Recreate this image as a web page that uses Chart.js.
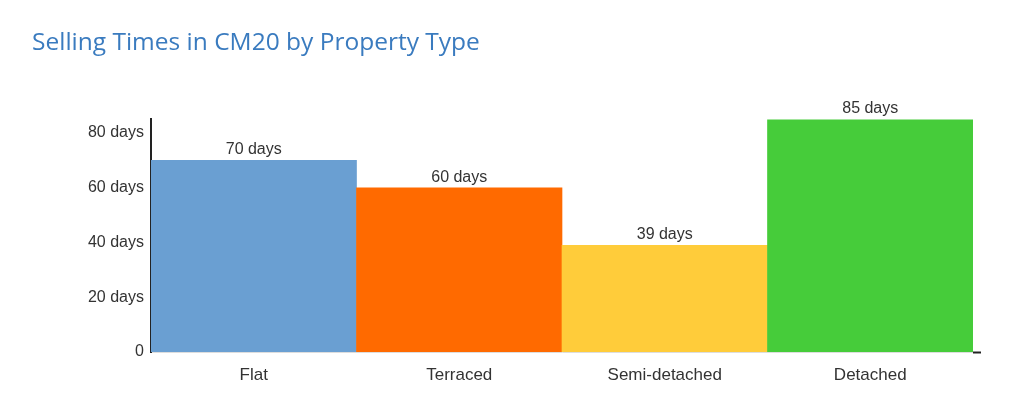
<!DOCTYPE html>
<html>
<head>
<meta charset="utf-8">
<script src="https://cdn.jsdelivr.net/npm/chart.js@4.4.1/dist/chart.umd.min.js"></script>
<style>
html,body{margin:0;padding:0;background:#fff;}
#wrap{width:1024px;height:414px;position:relative;}
</style>
</head>
<body>
<div id="wrap"><canvas id="c" width="1024" height="414"></canvas></div>
<script>
const categories = ["Flat", "Terraced", "Semi-detached", "Detached"];
const sellingDays = [70, 60, 39, 85];
const barColors = ["#6a9fd2", "#ff6a00", "#ffcc3a", "#46cc3a"];
const yTicks = [0, 20, 40, 60, 80];
const titleText = "Selling Times in CM20 by Property Type";

const barLabels = {
  id: 'barLabels',
  afterDatasetsDraw(chart) {
    const ctx = chart.ctx;
    const meta = chart.getDatasetMeta(0);
    ctx.save();
    ctx.font = '16px "Liberation Sans", Arial, sans-serif';
    ctx.fillStyle = '#333333';
    ctx.textAlign = 'center';
    ctx.textBaseline = 'alphabetic';
    meta.data.forEach((bar, i) => {
      ctx.fillText(sellingDays[i] + ' days', bar.x, bar.y - 6);
    });
    // small dark end of the x axis beyond the last bar
    const a = chart.chartArea;
    ctx.strokeStyle = '#222222';
    ctx.lineWidth = 2;
    ctx.beginPath();
    ctx.moveTo(a.right, a.bottom + 0.5);
    ctx.lineTo(a.right + 8, a.bottom + 0.5);
    ctx.stroke();
    ctx.restore();
  }
};

new Chart(document.getElementById('c'), {
  type: 'bar',
  data: {
    labels: categories,
    datasets: [{
      data: sellingDays,
      backgroundColor: barColors,
      borderWidth: 0,
      barPercentage: 1.0,
      categoryPercentage: 1.0
    }]
  },
  options: {
    responsive: false,
    animation: false,
    devicePixelRatio: 1,
    layout: { padding: { left: 32, right: 51, top: 0, bottom: 0 } },
    plugins: {
      legend: { display: false },
      tooltip: { enabled: false },
      title: {
        display: true,
        text: titleText,
        align: 'start',
        color: '#3a7bbf',
        font: { family: '"Open Sans", sans-serif', size: 24.5, weight: '500' },
        padding: { top: 28, bottom: 62 }
      }
    },
    scales: {
      x: {
        grid: { display: false },
        border: { display: true, color: '#dddddd', width: 1 },
        ticks: {
          color: '#333333',
          font: { family: '"Liberation Sans", Arial, sans-serif', size: 17 },
          padding: 5
        },
        afterFit(scale) { scale.height = 62; }
      },
      y: {
        min: 0,
        max: 85,
        grid: { display: false, drawTicks: false },
        border: { display: true, color: '#222222', width: 2 },
        afterBuildTicks(scale) { scale.ticks = yTicks.map(v => ({ value: v })); },
        ticks: {
          color: '#333333',
          font: { family: '"Liberation Sans", Arial, sans-serif', size: 16 },
          padding: 7,
          callback: (v) => v === 0 ? '0' : v + ' days'
        },
        afterFit(scale) { scale.width = 119; }
      }
    }
  },
  plugins: [barLabels]
});
</script>
</body>
</html>
